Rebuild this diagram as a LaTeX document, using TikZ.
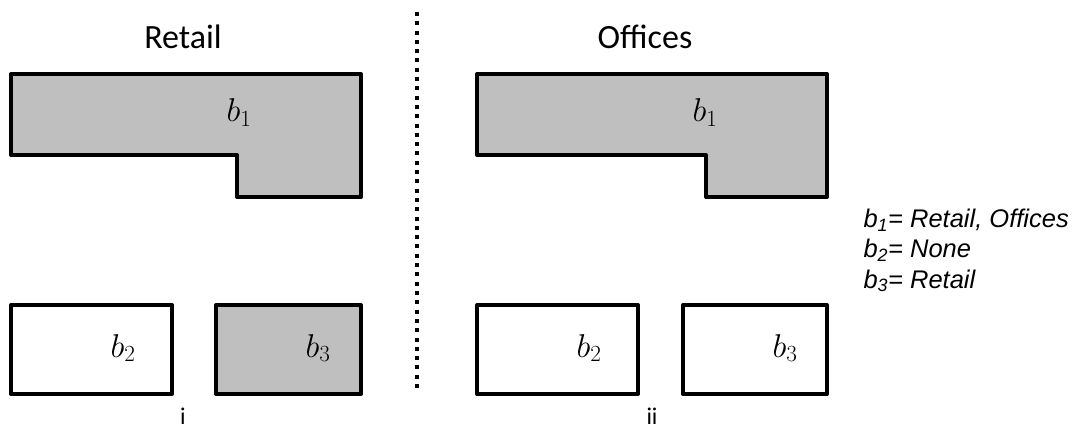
\RequirePackage{fix-cm}
\documentclass[tikz,border=0pt]{standalone}
\usepackage{fontspec}
\setmainfont{Carlito}
\newfontfamily\legendfont{Liberation Sans}
\begin{document}
\begin{tikzpicture}[x=1pt,y=-1pt,
    lot/.style={line width=4pt,line join=round},
    used/.style={lot,fill=black!25},
    free/.style={lot,fill=white},
    title/.style={font=\fontsize{34}{40}\selectfont,anchor=base},
    blabel/.style={font=\fontsize{33}{38}\selectfont,anchor=base},
    panel/.style={font=\fontsize{24}{28}\selectfont,anchor=base},
    legend/.style={font=\fontsize{25.5}{30}\legendfont\itshape,anchor=base west}]
  \useasboundingbox (0,0) rectangle (1083,430);
  % left panel
  \draw[used] (11,74)--(361,74)--(361,197)--(237,197)--(237,155)--(11,155)--cycle;
  \draw[free] (11,305) rectangle (172,394);
  \draw[used] (216,305) rectangle (361,394);
  \node[title] (retail) at (183,49) {Retail};
  \node[blabel] (lbone) at (239,122) {$b_1$};
  \node[blabel] (lbtwo) at (123,357) {$b_2$};
  \node[blabel] (lbthree) at (318,357) {$b_3$};
  \node[panel] (pi) at (183,424) {i};
  % divider
  \draw[line width=4pt,dash pattern=on 4pt off 5.3pt] (417,12)--(417,393);
  % right panel
  \draw[used] (477,74)--(827,74)--(827,197)--(706,197)--(706,155)--(477,155)--cycle;
  \draw[free] (477,305) rectangle (638,394);
  \draw[free] (683,305) rectangle (827,394);
  \node[title] (offices) at (645,49) {Offices};
  \node[blabel] (rbone) at (705,122) {$b_1$};
  \node[blabel] (rbtwo) at (589,357) {$b_2$};
  \node[blabel] (rbthree) at (785,357) {$b_3$};
  \node[panel] (pii) at (652,424) {ii};
  % legend
  \node[legend] (lgone) at (860,228) {b\textsubscript{1}= Retail, Offices};
  \node[legend] (lgtwo) at (860,258) {b\textsubscript{2}= None};
  \node[legend] (lgthree) at (860,288) {b\textsubscript{3}= Retail};
\end{tikzpicture}
\end{document}
